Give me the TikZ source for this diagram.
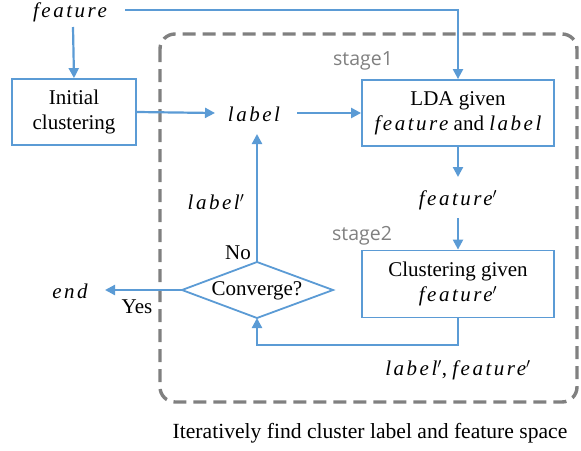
\documentclass[tikz,border=0pt]{standalone}
\usepackage{fontspec}
\setmainfont{Liberation Serif}
\newfontfamily\mvar[LetterSpace=12]{Liberation Serif Italic}
\newfontfamily\stagefont{Open Sans}
\usetikzlibrary{arrows.meta}
\definecolor{flowblue}{RGB}{91,155,213}
\definecolor{dashgray}{RGB}{128,128,128}
\newcommand{\mv}[1]{{\mvar #1}}
\tikzset{
  txt/.style={font=\fontsize{21}{24}\selectfont, inner sep=0pt},
  boxnode/.style={draw=flowblue, line width=1.8pt, fill=white, align=center, font=\fontsize{21}{25}\selectfont, inner sep=0pt},
  flow/.style={draw=flowblue, line width=2.2pt, -{Triangle[length=10pt,width=10pt]}},
  stagelbl/.style={font=\stagefont\fontsize{19.5}{22}\selectfont, text=dashgray, inner sep=0pt}
}
\begin{document}
\begin{tikzpicture}[x=1pt,y=-1pt]
\useasboundingbox (0,0) rectangle (581,450);
% dashed container
\draw[dashgray, line width=3.4pt, dash pattern=on 13pt off 7pt, rounded corners=15pt] (160,34) rectangle (577,402);
% nodes
\node[txt] (feat) at (70,12) {\mv{feature}};
\node[boxnode, minimum width=124pt, minimum height=66pt] (init) at (74,112) {Initial\\clustering};
\node[txt] (label) at (254,114) {\mv{label}};
\node[boxnode, minimum width=192pt, minimum height=66pt] (lda) at (458,113) {LDA given\\\mv{feature} and \mv{label}};
\node[stagelbl] (s1) at (363,61) {stage1};
\node[txt] (featp) at (458,200) {\mv{feature}$'$};
\node[stagelbl] (s2) at (362,236) {stage2};
\node[boxnode, minimum width=192pt, minimum height=67pt] (clus) at (458,284) {Clustering given\\\mv{feature}$'$};
\draw[flowblue, line width=1.8pt, fill=white] (257,262) coordinate (dtop) -- (333,290) coordinate (dright) -- (257,318) coordinate (dbot) -- (182,290) coordinate (dleft) -- cycle;
\node[txt] (conv) at (257,291) {Converge?};
\node[txt] (labp) at (216,202) {\mv{label}$'$};
\node[txt] (no) at (238,253) {No};
\node[txt] (endn) at (70,291) {\mv{end}};
\node[txt] (yes) at (137,307) {Yes};
\node[txt] (out) at (458,370) {\mv{label}$'$, \mv{feature}$'$};
\node[txt, font=\fontsize{21.6}{24}\selectfont] (cap) at (370,433) {Iteratively find cluster label and feature space};
% connectors
\coordinate (fstart) at (125,10);
\coordinate (fcorner) at (458,10);
\coordinate (fdown) at (73,27);
\coordinate (lin) at (215,113);
\coordinate (lout) at (297,113);
\coordinate (fpin) at (458,177);
\coordinate (fpout) at (458,218);
\coordinate (lpend) at (257,345);
\coordinate (labin) at (257,134);
\coordinate (endin) at (105,290);
\draw[flow] (fstart) -- (fcorner) -- (lda.north);
\draw[flow] (fdown) -- (init.north);
\draw[flow] (init.east) -- (lin);
\draw[flow] (lout) -- (lda.west);
\draw[flow] (lda.south) -- (fpin);
\draw[flow] (fpout) -- (clus.north);
\draw[flow] (clus.south) -- (clus.south |- lpend) -- (lpend) -- (dbot);
\draw[flow] (dtop) -- (labin);
\draw[flow] (dleft) -- (endin);
\end{tikzpicture}
\end{document}
